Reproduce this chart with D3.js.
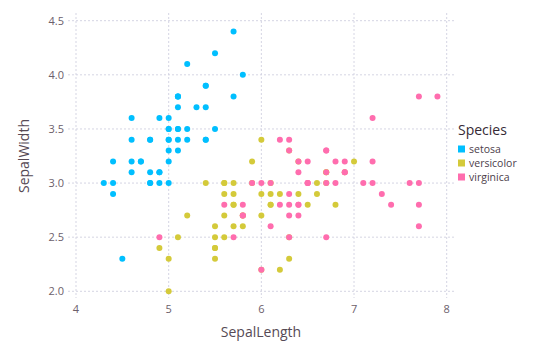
<!DOCTYPE html>
<html>
<head>
<meta charset="utf-8">
<script src="https://cdn.jsdelivr.net/npm/d3@7"></script>
<style>
  body { margin: 0; background: #fff; }
  text { font-family: "Open Sans", "Noto Sans", sans-serif; }
</style>
</head>
<body>
<div id="vis"></div>
<script>
// iris sepal measurements, [length, width]
const setosa = [
  [5.1,3.5],[4.9,3.0],[4.7,3.2],[4.6,3.1],[5.0,3.6],[5.4,3.9],[4.6,3.4],[5.0,3.4],[4.4,2.9],[4.9,3.1],
  [5.4,3.7],[4.8,3.4],[4.8,3.0],[4.3,3.0],[5.8,4.0],[5.7,4.4],[5.4,3.9],[5.1,3.5],[5.7,3.8],[5.1,3.8],
  [5.4,3.4],[5.1,3.7],[4.6,3.6],[5.1,3.3],[4.8,3.4],[5.0,3.0],[5.0,3.4],[5.2,3.5],[5.2,3.4],[4.7,3.2],
  [4.8,3.1],[5.4,3.4],[5.2,4.1],[5.5,4.2],[4.9,3.1],[5.0,3.2],[5.5,3.5],[4.9,3.6],[4.4,3.0],[5.1,3.4],
  [5.0,3.5],[4.5,2.3],[4.4,3.2],[5.0,3.5],[5.1,3.8],[4.8,3.0],[5.1,3.8],[4.6,3.2],[5.3,3.7],[5.0,3.3]
]
const versicolor = [
  [7.0,3.2],[6.4,3.2],[6.9,3.1],[5.5,2.3],[6.5,2.8],[5.7,2.8],[6.3,3.3],[4.9,2.4],[6.6,2.9],[5.2,2.7],
  [5.0,2.0],[5.9,3.0],[6.0,2.2],[6.1,2.9],[5.6,2.9],[6.7,3.1],[5.6,3.0],[5.8,2.7],[6.2,2.2],[5.6,2.5],
  [5.9,3.2],[6.1,2.8],[6.3,2.5],[6.1,2.8],[6.4,2.9],[6.6,3.0],[6.8,2.8],[6.7,3.0],[6.0,2.9],[5.7,2.6],
  [5.5,2.4],[5.5,2.4],[5.8,2.7],[6.0,2.7],[5.4,3.0],[6.0,3.4],[6.7,3.1],[6.3,2.3],[5.6,3.0],[5.5,2.5],
  [5.5,2.6],[6.1,3.0],[5.8,2.6],[5.0,2.3],[5.6,2.7],[5.7,3.0],[5.7,2.9],[6.2,2.9],[5.1,2.5],[5.7,2.8]
]
const virginica = [
  [6.3,3.3],[5.8,2.7],[7.1,3.0],[6.3,2.9],[6.5,3.0],[7.6,3.0],[4.9,2.5],[7.3,2.9],[6.7,2.5],[7.2,3.6],
  [6.5,3.2],[6.4,2.7],[6.8,3.0],[5.7,2.5],[5.8,2.8],[6.4,3.2],[6.5,3.0],[7.7,3.8],[7.7,2.6],[6.0,2.2],
  [6.9,3.2],[5.6,2.8],[7.7,2.8],[6.3,2.7],[6.7,3.3],[7.2,3.2],[6.2,2.8],[6.1,3.0],[6.4,2.8],[7.2,3.0],
  [7.4,2.8],[7.9,3.8],[6.4,2.8],[6.3,2.8],[6.1,2.6],[7.7,3.0],[6.3,3.4],[6.4,3.1],[6.0,3.0],[6.9,3.1],
  [6.7,3.1],[6.9,3.1],[5.8,2.7],[6.8,3.2],[6.7,3.3],[6.7,3.0],[6.3,2.5],[6.5,3.0],[6.2,3.4],[5.9,3.0]
]

const species = ["setosa", "versicolor", "virginica"]
const colors = ["#00BFFF", "#D4CA3A", "#FF6DAE"]
const xTicks = [4, 5, 6, 7, 8]
const yTicks = [2.0, 2.5, 3.0, 3.5, 4.0, 4.5]

const width = 535, height = 359

let data = []
;[setosa, versicolor, virginica].forEach((arr, i) => {
    arr.forEach(d => data.push({x: d[0], y: d[1], s: species[i]}))
})

let x = d3.scaleLinear().domain([4, 8]).range([76, 446.7])
let y = d3.scaleLinear().domain([2, 4.5]).range([291.3, 20.7])
let color = d3.scaleOrdinal().domain(species).range(colors)

let svg = d3.select("#vis").append("svg")
    .attr("width", width)
    .attr("height", height)

let grid = svg.append("g")
    .attr("stroke", "#D0D0E0")
    .attr("stroke-width", 0.9)
    .attr("stroke-dasharray", "2,2")

grid.selectAll(".v")
    .data(xTicks)
    .join("line")
    .attr("x1", d => x(d)).attr("x2", d => x(d))
    .attr("y1", 13).attr("y2", 298)

grid.selectAll(".h")
    .data(yTicks)
    .join("line")
    .attr("y1", d => y(d)).attr("y2", d => y(d))
    .attr("x1", 68).attr("x2", 455)

svg.append("g")
    .attr("font-size", 11)
    .attr("fill", "#6C606B")
    .attr("text-anchor", "end")
    .selectAll("text")
    .data(yTicks)
    .join("text")
    .attr("x", 64)
    .attr("y", d => y(d))
    .attr("dy", "0.35em")
    .text(d => d3.format(".1f")(d))

svg.append("g")
    .attr("font-size", 11)
    .attr("fill", "#6C606B")
    .attr("text-anchor", "middle")
    .selectAll("text")
    .data(xTicks)
    .join("text")
    .attr("x", d => x(d))
    .attr("y", 309.5)
    .attr("dy", "0.35em")
    .text(d => d)

svg.append("text")
    .attr("x", 261)
    .attr("y", 332)
    .attr("dy", "0.35em")
    .attr("text-anchor", "middle")
    .attr("font-size", 14)
    .attr("fill", "#564A55")
    .text("SepalLength")

svg.append("text")
    .attr("transform", "translate(24,156) rotate(-90)")
    .attr("dy", "0.35em")
    .attr("text-anchor", "middle")
    .attr("font-size", 14)
    .attr("fill", "#564A55")
    .text("SepalWidth")

svg.append("g")
    .selectAll("circle")
    .data(data)
    .join("circle")
    .attr("cx", d => x(d.x))
    .attr("cy", d => y(d.y))
    .attr("r", 3)
    .attr("fill", d => color(d.s))

let legend = svg.append("g")

legend.append("text")
    .attr("x", 458)
    .attr("y", 130)
    .attr("dy", "0.35em")
    .attr("font-size", 14)
    .attr("fill", "#362A35")
    .text("Species")

let item = legend.selectAll(".item")
    .data(species)
    .join("g")
    .attr("transform", (d, i) => `translate(458,${149 + i * 14})`)

item.append("rect")
    .attr("x", 0).attr("y", -3.5)
    .attr("width", 7).attr("height", 7)
    .attr("fill", d => color(d))

item.append("text")
    .attr("x", 11)
    .attr("dy", "0.35em")
    .attr("font-size", 10.5)
    .attr("fill", "#4C404B")
    .text(d => d)
</script>
</body>
</html>
